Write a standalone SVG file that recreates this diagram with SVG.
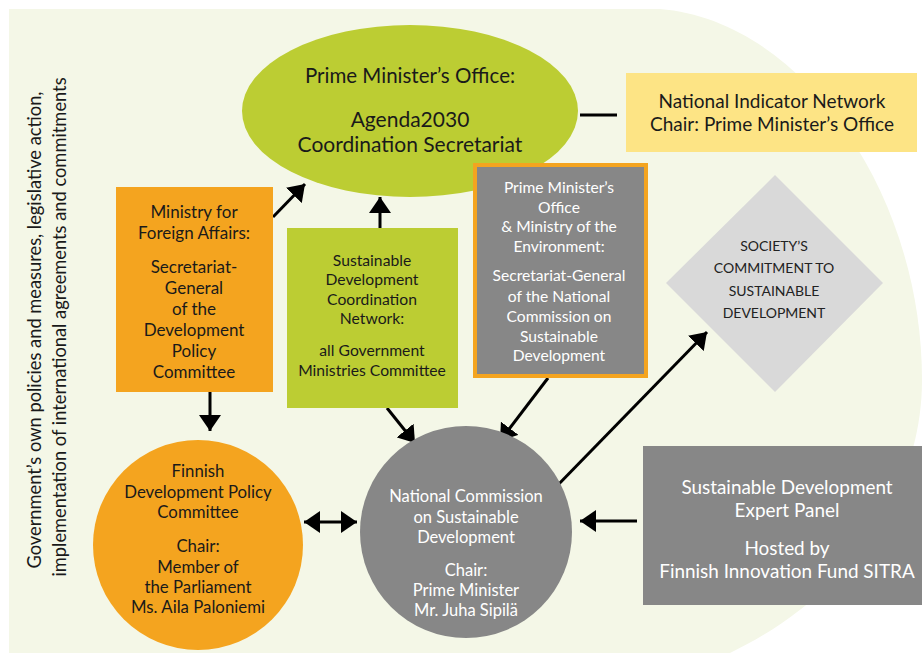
<svg xmlns="http://www.w3.org/2000/svg" width="922" height="655" viewBox="0 0 922 655">
<defs>
<style>
text{font-family:Lato,"Liberation Sans",sans-serif;text-anchor:middle}
.dk{fill:#1a1a1a}
.wh{fill:#ffffff}
.conn{stroke:#000;stroke-width:3;fill:none}
</style>
<marker id="ah" viewBox="0 0 16 22" refX="16" refY="11" markerWidth="16" markerHeight="22" markerUnits="userSpaceOnUse" orient="auto-start-reverse"><path d="M0,0 L16,11 L0,22 z" fill="#000"/></marker>
</defs>
<rect width="922" height="655" fill="#ffffff"/>
<path id="bg" d="M9,9 H660 C800,20 922,190 922,380 C922,500 840,600 730,653 H9 Z" fill="#f4f7e7"/>
<g id="side-text" class="dk" font-size="18.3">
<text transform="translate(41,330) rotate(-90)">Government’s own policies and measures, legislative action,</text>
<text transform="translate(66,327) rotate(-90)">implementation of international agreements and commitments</text>
</g>
<g id="connectors">
<line class="conn" x1="580" y1="115" x2="617" y2="115"/>
<line class="conn" x1="273" y1="217" x2="305" y2="184" marker-end="url(#ah)"/>
<line class="conn" x1="380" y1="228" x2="380" y2="197" marker-end="url(#ah)"/>
<line class="conn" x1="210" y1="392" x2="210" y2="431" marker-end="url(#ah)"/>
<line class="conn" x1="387" y1="408" x2="415" y2="443" marker-end="url(#ah)"/>
<line class="conn" x1="548" y1="378" x2="500" y2="441" marker-end="url(#ah)"/>
<line class="conn" x1="553" y1="490" x2="707" y2="332" marker-end="url(#ah)"/>
<line class="conn" x1="637" y1="521" x2="580" y2="521" marker-end="url(#ah)"/>
<line class="conn" x1="304" y1="522" x2="357" y2="522" marker-start="url(#ah)" marker-end="url(#ah)"/>
</g>
<g id="pmo">
<ellipse cx="410" cy="111" rx="168" ry="86" fill="#bccd33"/>
<text class="dk" x="410" y="83" font-size="20.5">Prime Minister’s Office:</text>
<text class="dk" x="410" y="127" font-size="21">Agenda2030</text>
<text class="dk" x="410" y="152" font-size="21">Coordination Secretariat</text>
</g>
<g id="indicator">
<rect x="626" y="73" width="291" height="79" fill="#fde485"/>
<text class="dk" x="772" y="108" font-size="19">National Indicator Network</text>
<text class="dk" x="772" y="131" font-size="19">Chair: Prime Minister’s Office</text>
</g>
<g id="mfa" class="dk" font-size="17">
<rect x="116" y="187" width="157" height="205" fill="#f4a41f"/>
<text x="194" y="218">Ministry for</text>
<text x="194" y="239">Foreign Affairs:</text>
<text x="194" y="273">Secretariat-</text>
<text x="194" y="294">General</text>
<text x="194" y="315">of the</text>
<text x="194" y="336">Development</text>
<text x="194" y="357">Policy</text>
<text x="194" y="378">Committee</text>
</g>
<g id="sdcn" class="dk" font-size="15.7">
<rect x="287" y="228" width="171" height="180" fill="#bccd33"/>
<text x="372" y="266">Sustainable</text>
<text x="372" y="285">Development</text>
<text x="372" y="305">Coordination</text>
<text x="372" y="324">Network:</text>
<text x="372" y="356">all Government</text>
<text x="372" y="376">Ministries Committee</text>
</g>
<g id="secgen" class="wh" font-size="15.6">
<rect x="475" y="165" width="171" height="211" fill="#878787" stroke="#f4a41f" stroke-width="4"/>
<text x="559" y="193">Prime Minister’s</text>
<text x="559" y="213">Office</text>
<text x="559" y="232">&amp; Ministry of the</text>
<text x="559" y="252">Environment:</text>
<text x="559" y="281">Secretariat-General</text>
<text x="559" y="302">of the National</text>
<text x="559" y="322">Commission on</text>
<text x="559" y="342">Sustainable</text>
<text x="559" y="361">Development</text>
</g>
<g id="society" font-size="14" fill="#222">
<polygon points="775,175 883,283 775,392 666,283" fill="#d9d9d9"/>
<text x="774" y="251">SOCIETY’S</text>
<text x="774" y="273">COMMITMENT TO</text>
<text x="774" y="296">SUSTAINABLE</text>
<text x="774" y="318">DEVELOPMENT</text>
</g>
<g id="fdpc" class="dk" font-size="16.8">
<circle cx="198" cy="545" r="105" fill="#f4a41f"/>
<text x="198" y="477">Finnish</text>
<text x="198" y="498">Development Policy</text>
<text x="198" y="518">Committee</text>
<text x="198" y="552">Chair:</text>
<text x="198" y="573">Member of</text>
<text x="198" y="593">the Parliament</text>
<text x="198" y="613">Ms. Aila Paloniemi</text>
</g>
<g id="ncsd" class="wh" font-size="16.5">
<circle cx="466" cy="532" r="106" fill="#878787"/>
<text x="466" y="502">National Commission</text>
<text x="466" y="523">on Sustainable</text>
<text x="466" y="543">Development</text>
<text x="466" y="576">Chair:</text>
<text x="466" y="596">Prime Minister</text>
<text x="466" y="616">Mr. Juha Sipilä</text>
</g>
<g id="expert" class="wh" font-size="18.9">
<rect x="643" y="446" width="279" height="159" fill="#878787"/>
<text x="787" y="494">Sustainable Development</text>
<text x="787" y="517">Expert Panel</text>
<text x="787" y="555">Hosted by</text>
<text x="787" y="578">Finnish Innovation Fund SITRA</text>
</g>
</svg>
